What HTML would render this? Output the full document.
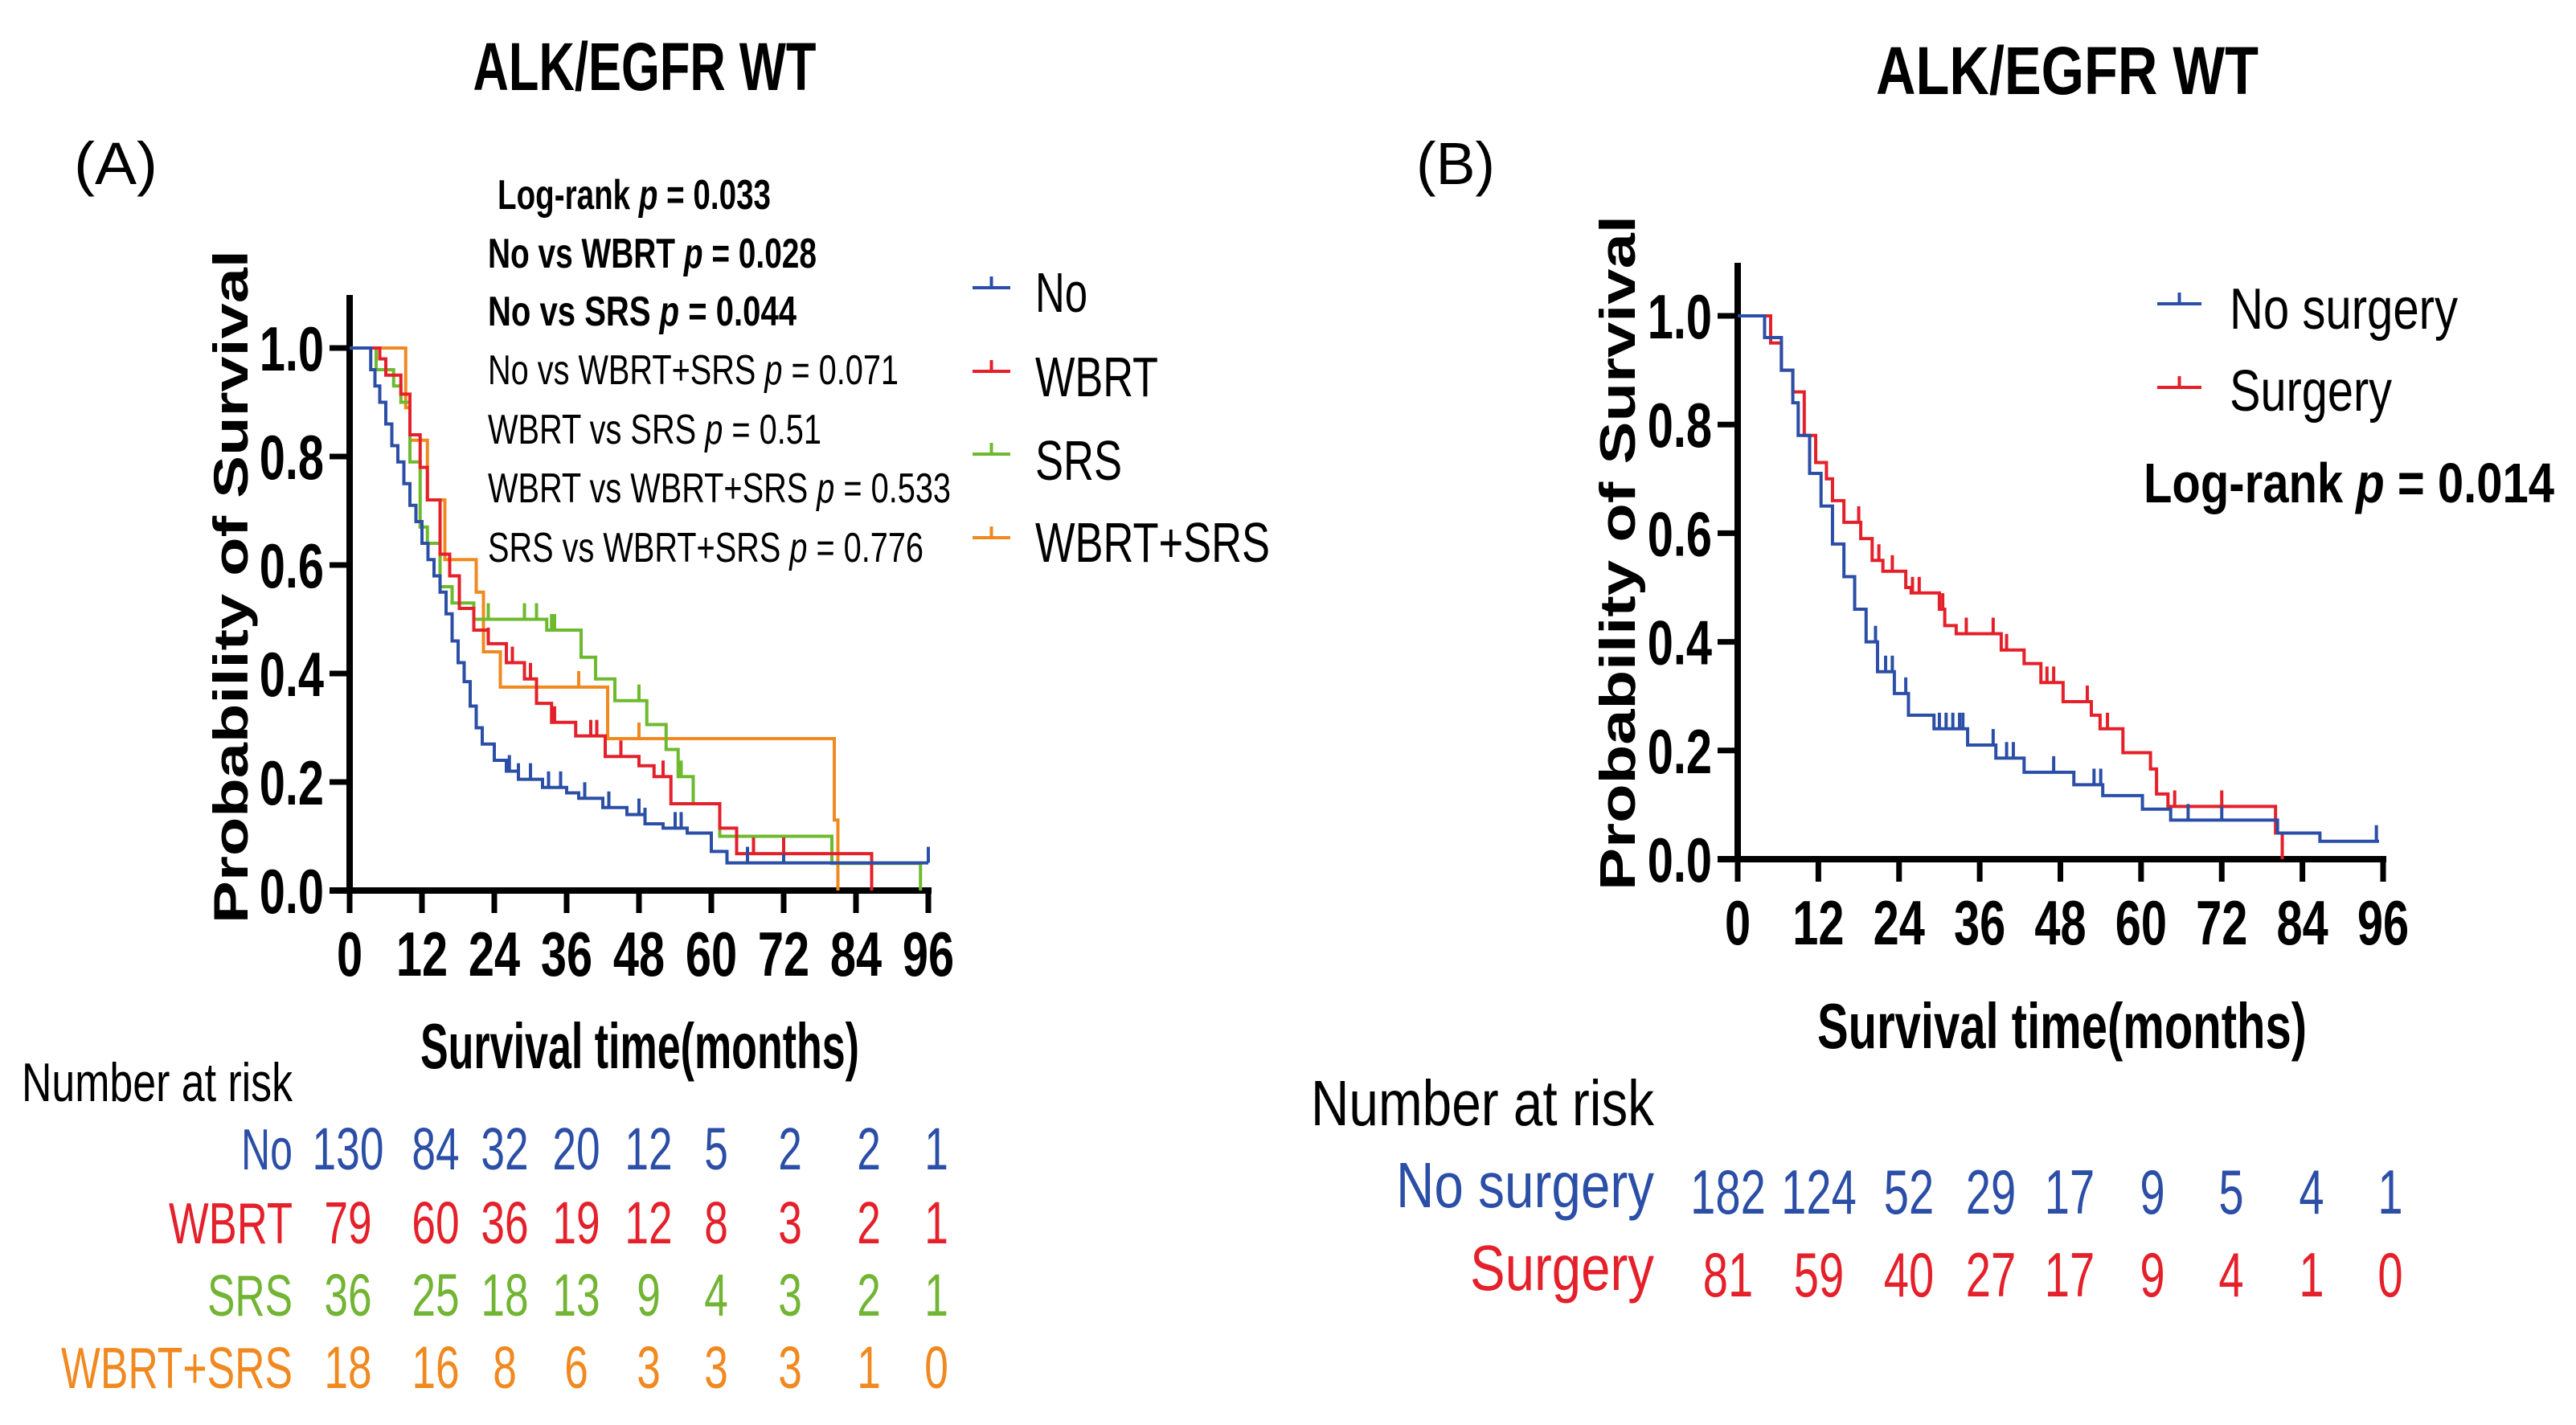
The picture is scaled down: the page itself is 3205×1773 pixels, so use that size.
<!DOCTYPE html>
<html><head><meta charset="utf-8"><style>
html,body{margin:0;padding:0;background:#fff;}
svg{display:block;font-family:"Liberation Sans",Arial,sans-serif;}
</style></head><body>
<svg id="fig" width="3205" height="1773" viewBox="0 0 3205 1773" xmlns="http://www.w3.org/2000/svg"></svg>
<script>
// ---------- Data ----------
const ticksX = [0,12,24,36,48,60,72,84,96];
const ticksY = [0,0.2,0.4,0.6,0.8,1.0];
const tickYLabels = ["0.0","0.2","0.4","0.6","0.8","1.0"];

// Panel A series (time, survival)
const aNoT = [0,3,3.5,4.2,5,6,7,8,9,10,11,12,13,14,15,16,17,18,19,20,21,22,24,26,28,32,36,38,42,46,49,52,56,60,62.6,96];
const aNoS = [1,1,0.96,0.93,0.9,0.86,0.82,0.79,0.75,0.71,0.68,0.64,0.61,0.58,0.55,0.51,0.46,0.42,0.385,0.34,0.3,0.27,0.24,0.22,0.205,0.19,0.18,0.17,0.153,0.14,0.123,0.115,0.106,0.072,0.051,0.051];
const aWbrtT = [0,3.2,5,6,8.5,10,11.7,12.9,15,16.6,18.2,20.6,23,26,29,31,33.5,37.5,42.4,48,50.5,53.3,61.4,64.2,86.6];
const aWbrtS = [1,1,0.98,0.95,0.915,0.84,0.78,0.72,0.62,0.58,0.52,0.48,0.455,0.42,0.39,0.345,0.31,0.285,0.247,0.23,0.21,0.16,0.115,0.068,0];
const aSrsT = [0,4.4,7.3,8.5,10,11.7,12.9,15,17,20.6,32.7,38.4,40.8,44,49.3,52.5,54.5,57,61.4,80,94.7];
const aSrsS = [1,0.96,0.93,0.9,0.79,0.67,0.64,0.56,0.53,0.5,0.48,0.43,0.39,0.35,0.306,0.26,0.21,0.16,0.1,0.05,0];
const aCombT = [0,9.3,10,12.9,15.8,21,22.2,25,42.8,80.4,81];
const aCombS = [1,0.89,0.83,0.72,0.61,0.55,0.44,0.375,0.28,0.13,0];
const aNoCens = [24,26.5,28,30,33,35,39,43,48,49,54,55,66,72,96];
const aWbrtCens = [23,26,27,30,31,34,40,41,45,52,67,72];
const aSrsCens = [23,29,31,33.5,34,48,55];
const aCombCens = [38,48];

// Panel B series
const bNoT = [0,3.4,4,6.5,8.2,9,10.7,12.4,14.1,15.8,17.4,19.1,20.8,23.3,25.4,29.2,34.2,38.4,42.6,50,54.3,60.2,64.4,80.3,86.6,95.4];
const bNoS = [1,1,0.96,0.9,0.84,0.78,0.71,0.65,0.58,0.52,0.46,0.4,0.345,0.305,0.265,0.24,0.21,0.186,0.16,0.137,0.117,0.092,0.072,0.048,0.033,0.033];
const bSurT = [0,3.4,4.9,6.5,8.2,9.9,11.6,13.2,14.1,15.8,18.3,20,21.6,25,25.8,30,30.8,32.5,39.2,42.6,45.1,48.4,52.6,53.9,57.3,61.4,62.3,64,80,81];
const bSurS = [1,1,0.95,0.9,0.86,0.78,0.73,0.7,0.66,0.62,0.59,0.55,0.53,0.5,0.49,0.46,0.43,0.415,0.385,0.36,0.325,0.29,0.265,0.24,0.196,0.166,0.12,0.097,0.048,0];
const bNoCens = [20.5,22,23,25,30,31,32,33,33.5,38,40,41,47,53,54,67,72,95];
const bSurCens = [18,21,23,26,27,30,30.5,34,38,40,46,47,52,55,65,72];

// Risk tables
const riskANo = ["130","84","32","20","12","5","2","2","1"];
const riskAWbrt = ["79","60","36","19","12","8","3","2","1"];
const riskASrs = ["36","25","18","13","9","4","3","2","1"];
const riskAComb = ["18","16","8","6","3","3","3","1","0"];
const riskBNo = ["182","124","52","29","17","9","5","4","1"];
const riskBSur = ["81","59","40","27","17","9","4","1","0"];

// ---------- Drawing ----------
const NS = "http://www.w3.org/2000/svg";
const svg = document.getElementById('fig');
const C = {blue:"#2b4ea6", red:"#e4202a", green:"#6dba2e", orange:"#f0891f"};

function el(tag, attrs, parent){
  const e = document.createElementNS(NS, tag);
  for (const k in attrs) e.setAttribute(k, attrs[k]);
  (parent||svg).appendChild(e);
  return e;
}
function txt(str, x, y, size, weight, anchor, fill, len, name){
  const t = el('text', {x:x, y:y, 'font-size':size, 'font-weight':weight, 'text-anchor':anchor, fill:fill});
  if (len){ t.setAttribute('textLength', len); t.setAttribute('lengthAdjust','spacingAndGlyphs'); }
  t.textContent = str;
  
  
  return t;
}
function condensed(str, x, y, size, weight, anchor, fill, sx, name){
  const t = el('text', {transform:`translate(${x},${y}) scale(${sx},1)`, 'font-size':size, 'font-weight':weight, 'text-anchor':anchor, fill:fill});
  t.textContent = str;
  
  
  return t;
}

function makeAxes(X, Y, x0, x1, yTop, yBot, prefix){
  const g = el('g', {});
  
  
  el('line', {x1:x0, y1:yTop, x2:x0, y2:yBot+4, stroke:'#000', 'stroke-width':8}, g);
  el('line', {x1:x0-25, y1:yBot, x2:x1+4, y2:yBot, stroke:'#000', 'stroke-width':8}, g);
  ticksX.forEach(t=>{
    el('line', {x1:X(t), y1:yBot, x2:X(t), y2:yBot+28, stroke:'#000', 'stroke-width':7}, g);
    condensed(String(t), X(t), yBot+106, 78, 'bold', 'middle', '#000', 0.74, prefix + '-x-tick-' + t);
  });
  ticksY.forEach((v,i)=>{
    el('line', {x1:x0-25, y1:Y(v), x2:x0, y2:Y(v), stroke:'#000', 'stroke-width':7}, g);
    condensed(tickYLabels[i], x0-32, Y(v)+28, 78, 'bold', 'end', '#000', 0.74, prefix + '-y-tick-' + tickYLabels[i]);
  });
}
function stepPath(X, Y, T, S, color, name){
  let d = `M${X(T[0])},${Y(S[0])}`;
  for (let i=1;i<T.length;i++) d += ` H${X(T[i])} V${Y(S[i])}`;
  const p = el('path', {d:d, fill:'none', stroke:color, 'stroke-width':4});
  
  
}
function survAt(T, S, t){
  let s = S[0];
  for (let i=0;i<T.length;i++){ if (T[i] <= t) s = S[i]; }
  return s;
}
function censor(X, Y, T, S, cens, color, name){
  cens.forEach(c=>{
    const y = Y(survAt(T,S,c));
    const l = el('line', {x1:X(c), y1:y, x2:X(c), y2:y-20, stroke:color, 'stroke-width':4});
    
    
  });
}
function legendEntry(x1, x2, y, color, label, tx, ty, size, len, name){
  const g = el('g', {});
  
  
  el('line', {x1:x1, y1:y, x2:x2, y2:y, stroke:color, 'stroke-width':4}, g);
  el('line', {x1:(x1+x2)/2, y1:y, x2:(x1+x2)/2, y2:y-14, stroke:color, 'stroke-width':4}, g);
  const t = el('text', {x:tx, y:ty, 'font-size':size, fill:'#000', textLength:len, lengthAdjust:'spacingAndGlyphs'}, g);
  t.textContent = label;
}

// ---------- Panel A ----------
const XA = t => 435 + t*7.5;
const YA = s => 1108 - s*675;
txt("ALK/EGFR  WT", 802, 112, 84, 'bold', 'middle', '#000', 427, 'title-a');
txt("(A)", 92, 229, 74, 'normal', 'start', '#000', 104, 'panel-label-a');
makeAxes(XA, YA, 435, 1155, 367, 1108, 'a');
stepPath(XA, YA, aCombT, aCombS, C.orange, 'curve-wbrt-srs');
stepPath(XA, YA, aSrsT, aSrsS, C.green, 'curve-srs');
stepPath(XA, YA, aWbrtT, aWbrtS, C.red, 'curve-wbrt');
stepPath(XA, YA, aNoT, aNoS, C.blue, 'curve-no');
censor(XA, YA, aNoT, aNoS, aNoCens, C.blue, 'censor-no');
censor(XA, YA, aWbrtT, aWbrtS, aWbrtCens, C.red, 'censor-wbrt');
censor(XA, YA, aSrsT, aSrsS, aSrsCens, C.green, 'censor-srs');
censor(XA, YA, aCombT, aCombS, aCombCens, C.orange, 'censor-wbrt-srs');

// y label A
const yla = txt("Probability of Survival", 0, 0, 60, 'bold', 'middle', '#000', 838, 'y-axis-title-a');
yla.setAttribute('transform', 'translate(308,730) rotate(-90)');
txt("Survival time(months)", 523, 1329, 80, 'bold', 'start', '#000', 546, 'x-axis-title-a');

// stats text A
const stats = [
  ["Log-rank ", "p", " = 0.033", 619, 260, 'bold', 340],
  ["No vs WBRT ", "p", " = 0.028", 607, 333, 'bold', 409],
  ["No vs SRS  ", "p", " = 0.044", 607, 405, 'bold', 384],
  ["No vs WBRT+SRS  ", "p", " = 0.071", 607, 478, 'normal', 511],
  ["WBRT vs SRS  ", "p", " = 0.51", 607, 552, 'normal', 415],
  ["WBRT vs WBRT+SRS  ", "p", " = 0.533", 607, 625, 'normal', 576],
  ["SRS vs WBRT+SRS  ", "p", " = 0.776", 607, 699, 'normal', 542]
];
stats.forEach((s,i)=>{
  const t = el('text', {x:s[3], y:s[4], 'font-size':52, 'font-weight':s[5], fill:'#000', textLength:s[6], lengthAdjust:'spacingAndGlyphs'});
  
  
  const a = el('tspan', {}, t); a.textContent = s[0];
  const b = el('tspan', {'font-style':'italic'}, t); b.textContent = s[1];
  const c = el('tspan', {}, t); c.textContent = s[2];
});

legendEntry(1210, 1257, 358, C.blue, "No", 1288, 388, 70, 65, 'legend-entry-no');
legendEntry(1210, 1257, 462, C.red, "WBRT", 1288, 493, 70, 153, 'legend-entry-wbrt');
legendEntry(1210, 1257, 565, C.green, "SRS", 1288, 597, 70, 108, 'legend-entry-srs');
legendEntry(1210, 1257, 669, C.orange, "WBRT+SRS", 1288, 699, 70, 292, 'legend-entry-wbrt-srs');

// risk table A
txt("Number at risk", 27, 1370, 68, 'normal', 'start', '#000', 337, 'risk-table-title-a');
const colsA = [433, 542, 628, 717, 807, 891, 983, 1081, 1165];
const rowsA = [
  ["No", riskANo, C.blue, 1455, 64],
  ["WBRT", riskAWbrt, C.red, 1547, 154],
  ["SRS", riskASrs, "#72b433", 1637, 106],
  ["WBRT+SRS", riskAComb, C.orange, 1727, 288]
];
rowsA.forEach(r=>{
  txt(r[0], 364, r[3], 72, 'normal', 'end', r[2], r[4], 'risk-label-a-' + r[0].toLowerCase());
  r[1].forEach((v,i)=> condensed(v, colsA[i], r[3], 74, 'normal', 'middle', r[2], 0.72, 'risk-value-a-' + r[0].toLowerCase() + '-' + i));
});

// ---------- Panel B ----------
const XB = t => 2162 + t*(2965-2162)/96;
const YB = s => 1069 - s*676;
txt("ALK/EGFR  WT", 2572, 117, 84, 'bold', 'middle', '#000', 476, 'title-b');
txt("(B)", 1762, 229, 74, 'normal', 'start', '#000', 98, 'panel-label-b');
makeAxes(XB, YB, 2162, 2965, 327, 1069, 'b');
stepPath(XB, YB, bSurT, bSurS, C.red, 'curve-surgery');
stepPath(XB, YB, bNoT, bNoS, C.blue, 'curve-no-surgery');
censor(XB, YB, bNoT, bNoS, bNoCens, C.blue, 'censor-no-surgery');
censor(XB, YB, bSurT, bSurS, bSurCens, C.red, 'censor-surgery');

const ylb = txt("Probability of Survival", 0, 0, 62, 'bold', 'middle', '#000', 840, 'y-axis-title-b');
ylb.setAttribute('transform', 'translate(2034,688) rotate(-90)');
txt("Survival time(months)", 2261, 1304, 80, 'bold', 'start', '#000', 609, 'x-axis-title-b');

legendEntry(2684, 2739, 378, C.blue, "No surgery", 2774, 409, 72, 284, 'legend-entry-no-surgery');
legendEntry(2684, 2739, 482, C.red, "Surgery", 2774, 511, 72, 202, 'legend-entry-surgery');
{
  const t = el('text', {x:2667, y:625, 'font-size':70, 'font-weight':'bold', fill:'#000', textLength:511, lengthAdjust:'spacingAndGlyphs'});
  
  
  const a = el('tspan', {}, t); a.textContent = "Log-rank ";
  const b = el('tspan', {'font-style':'italic'}, t); b.textContent = "p";
  const c = el('tspan', {}, t); c.textContent = " = 0.014";
}

txt("Number at risk", 1631, 1400, 80, 'normal', 'start', '#000', 427, 'risk-table-title-b');
const colsB = [2150, 2263, 2375, 2477, 2575, 2678, 2776, 2876, 2974];
const rowsB = [
  ["No surgery", riskBNo, C.blue, 1502, 321],
  ["Surgery", riskBSur, C.red, 1605, 229]
];
rowsB.forEach(r=>{
  txt(r[0], 2058, r[3], 80, 'normal', 'end', r[2], r[4], 'risk-label-b-' + r[0].toLowerCase().replace(' ','-'));
  r[1].forEach((v,i)=> condensed(v, colsB[i], r[3]+8, 78, 'normal', 'middle', r[2], 0.72, 'risk-value-b-' + r[0].toLowerCase().replace(' ','-') + '-' + i));
});
</script>
</body></html>
